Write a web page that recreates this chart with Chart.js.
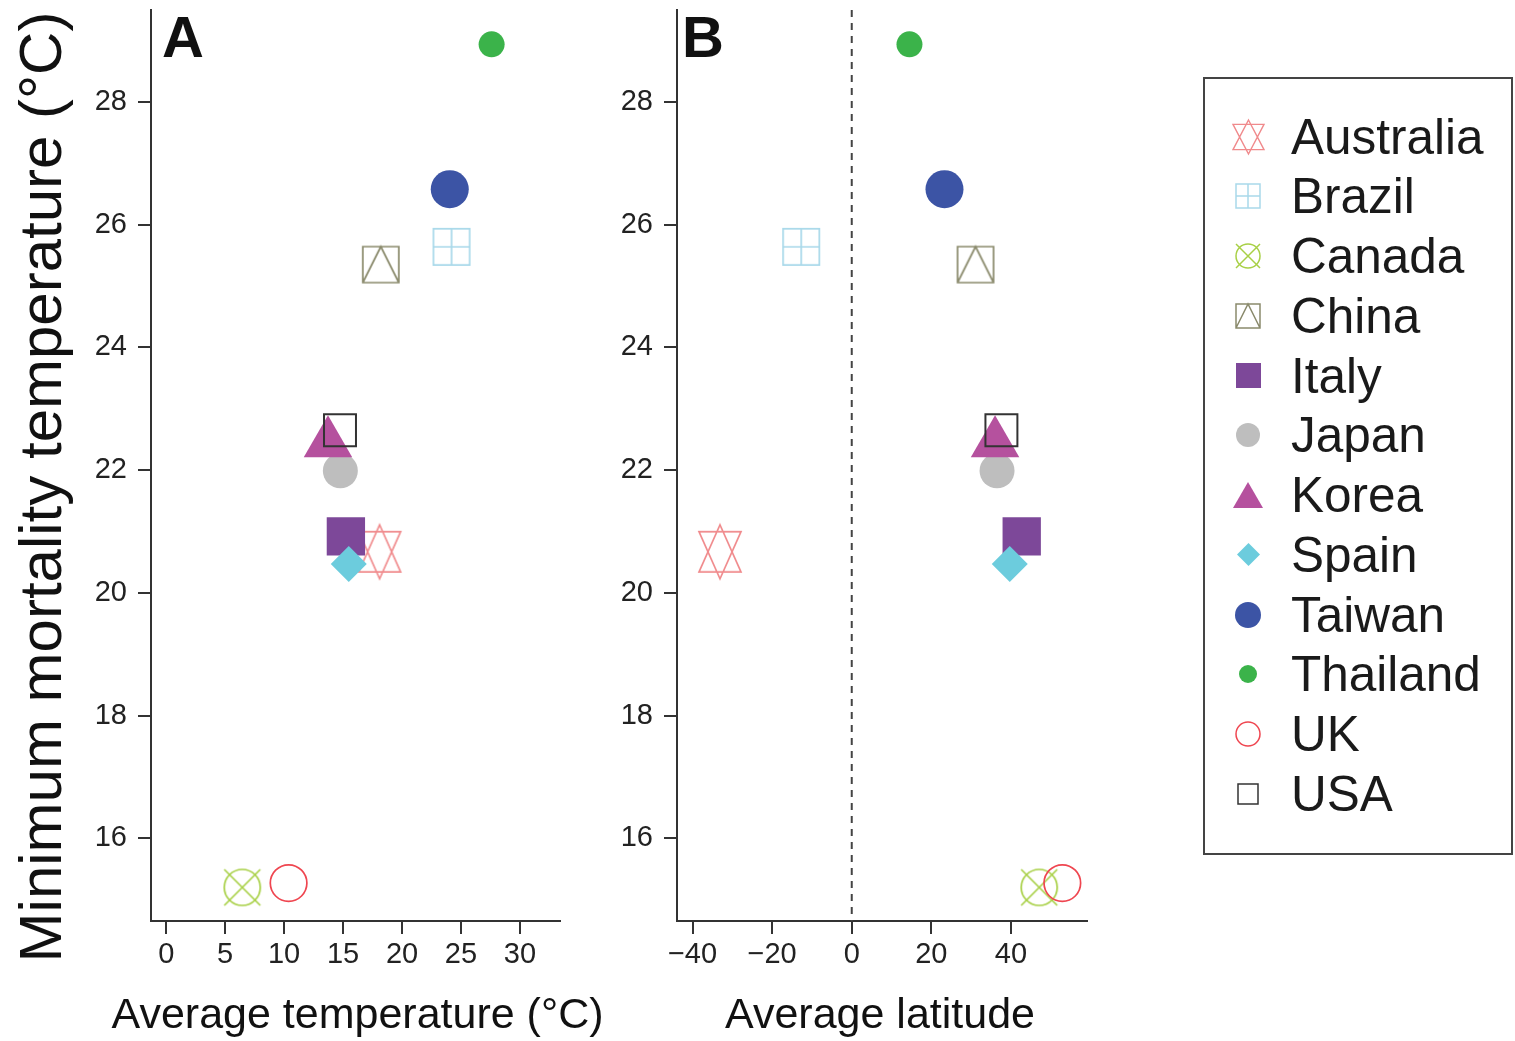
<!DOCTYPE html>
<html>
<head>
<meta charset="utf-8">
<script src="https://cdn.jsdelivr.net/npm/chart.js@4.4.1/dist/chart.umd.min.js"></script>
<style>
html,body{margin:0;padding:0;background:#fff;}
body{width:1515px;height:1041px;position:relative;overflow:hidden;font-family:"Liberation Sans",Arial,sans-serif;}
canvas{position:absolute;}
#ytitle{position:absolute;left:-459px;top:452px;width:1000px;height:70px;line-height:70px;font-size:60px;text-align:center;transform:rotate(-90deg);color:#111;white-space:nowrap;}
#legendBox{position:absolute;left:1203px;top:77px;width:306px;height:774px;border:2px solid #444;}
.ltext{position:absolute;left:1291px;height:60px;line-height:60px;font-size:49.5px;color:#1a1a1a;white-space:nowrap;}
</style>
</head>
<body>
<div id="ytitle">Minimum mortality temperature (°C)</div>
<canvas id="cA" width="630" height="1041" style="left:0;top:0;width:630px;height:1041px;"></canvas>
<canvas id="cB" width="560" height="1041" style="left:560px;top:0;width:560px;height:1041px;"></canvas>
<div id="legendBox"></div>
<script>
// ---------------- data ----------------
const countries = ['Australia','Brazil','Canada','China','Italy','Japan','Korea','Spain','Taiwan','Thailand','UK','USA'];
const avgTemperature = [18.1, 24.2, 6.45, 18.2, 15.24, 14.77, 13.72, 15.48, 24.05, 27.6, 10.38, 14.74];
const avgLatitude = [-33.1, -12.7, 47.1, 31.1, 42.7, 36.5, 36.0, 39.7, 23.3, 14.5, 52.9, 37.6];
const minMortalityTemp = [20.67, 25.64, 15.2, 25.35, 20.92, 21.99, 22.44, 20.47, 26.58, 28.94, 15.27, 22.65];
const tempTicks = [0, 5, 10, 15, 20, 25, 30];
const latTicks = [-40, -20, 0, 20, 40];
const mmtTicks = [16, 18, 20, 22, 24, 26, 28];
const referenceLatitude = 0;

// ---------------- styles ----------------
const colors = ['#F08A8C','#A9D9EA','#A8D046','#8A8A6C','#7D4899','#BEBEBE','#B5519E','#6CCCDD','#3C54A5','#3BB34A','#EF4650','#333333'];
const kinds  = ['star','sqplus','circx','sqtri','square','circle','triangle','diamond','circle','circle','ring','box'];
// legend marker sizes [w,h]
const legendSizes = [[31,34],[24,24],[24,24],[24,24],[25,25],[24,24],[30,26],[23,23],[26,26],[18,18],[24,24],[20,20]];

function drawMarker(ctx, kind, cx, cy, w, h, col, lw) {
  ctx.save();
  ctx.strokeStyle = col; ctx.fillStyle = col; ctx.lineWidth = lw; ctx.lineJoin = 'miter';
  const hw = w / 2, hh = h / 2;
  ctx.beginPath();
  switch (kind) {
    case 'star':
      ctx.moveTo(cx, cy - hh); ctx.lineTo(cx + hw, cy + h * 0.372); ctx.lineTo(cx - hw, cy + h * 0.372); ctx.closePath();
      ctx.moveTo(cx, cy + hh); ctx.lineTo(cx + hw, cy - h * 0.372); ctx.lineTo(cx - hw, cy - h * 0.372); ctx.closePath();
      ctx.stroke(); break;
    case 'sqplus':
      ctx.rect(cx - hw, cy - hh, w, h);
      ctx.moveTo(cx, cy - hh); ctx.lineTo(cx, cy + hh);
      ctx.moveTo(cx - hw, cy); ctx.lineTo(cx + hw, cy);
      ctx.stroke(); break;
    case 'circx':
      ctx.arc(cx, cy, hw, 0, Math.PI * 2);
      ctx.moveTo(cx - hw, cy - hh); ctx.lineTo(cx + hw, cy + hh);
      ctx.moveTo(cx + hw, cy - hh); ctx.lineTo(cx - hw, cy + hh);
      ctx.stroke(); break;
    case 'sqtri':
      ctx.rect(cx - hw, cy - hh, w, h);
      ctx.moveTo(cx - hw, cy + hh); ctx.lineTo(cx, cy - hh); ctx.lineTo(cx + hw, cy + hh);
      ctx.stroke(); break;
    case 'square':
      ctx.rect(cx - hw, cy - hh, w, h); ctx.fill(); break;
    case 'box':
      ctx.rect(cx - hw, cy - hh, w, h); ctx.stroke(); break;
    case 'circle':
      ctx.arc(cx, cy, hw, 0, Math.PI * 2); ctx.fill(); break;
    case 'ring':
      ctx.arc(cx, cy, hw, 0, Math.PI * 2); ctx.stroke(); break;
    case 'triangle':
      ctx.moveTo(cx, cy - hh); ctx.lineTo(cx + hw, cy + hh); ctx.lineTo(cx - hw, cy + hh); ctx.closePath(); ctx.fill(); break;
    case 'diamond':
      ctx.moveTo(cx, cy - hh); ctx.lineTo(cx + hw, cy); ctx.lineTo(cx, cy + hh); ctx.lineTo(cx - hw, cy); ctx.closePath(); ctx.fill(); break;
  }
  ctx.restore();
}

function markerCanvas(kind, w, h, col, lw, cw, ch) {
  const c = document.createElement('canvas');
  c.width = cw; c.height = ch;
  drawMarker(c.getContext('2d'), kind, cw / 2, ch / 2, w, h, col, lw);
  return c;
}

// point options for the plot panels
function plotPointOptions(i) {
  const col = colors[i];
  switch (kinds[i]) {
    case 'star':    return {pointStyle: markerCanvas('star', 42, 54, col, 1.7, 48, 60), pointRadius: 28, pointBorderWidth: 0};
    case 'sqplus':  return {pointStyle: markerCanvas('sqplus', 36.3, 36.3, col, 1.7, 42, 42), pointRadius: 20, pointBorderWidth: 0};
    case 'circx':   return {pointStyle: markerCanvas('circx', 36, 36, col, 1.7, 42, 42), pointRadius: 20, pointBorderWidth: 0};
    case 'sqtri':   return {pointStyle: markerCanvas('sqtri', 36, 36, col, 1.7, 42, 42), pointRadius: 20, pointBorderWidth: 0};
    case 'square':  return {pointStyle: 'rect', pointRadius: 27.1, pointBorderWidth: 0, pointBackgroundColor: col};
    case 'box':     return {pointStyle: 'rect', pointRadius: 22.6, pointBorderWidth: 2, pointBorderColor: col, pointBackgroundColor: 'rgba(0,0,0,0)'};
    case 'circle':  return {pointStyle: 'circle', pointRadius: i === 5 ? 17.5 : (i === 8 ? 19 : 13), pointBorderWidth: 0, pointBackgroundColor: col};
    case 'ring':    return {pointStyle: 'circle', pointRadius: 18.3, pointBorderWidth: 1.7, pointBorderColor: col, pointBackgroundColor: 'rgba(0,0,0,0)'};
    case 'triangle':return {pointStyle: 'triangle', pointRadius: 28, pointBorderWidth: 0, pointBackgroundColor: col};
    case 'diamond': return {pointStyle: 'rectRot', pointRadius: 18, pointBorderWidth: 0, pointBackgroundColor: col};
  }
}

function buildDatasets(xValues) {
  return countries.map((name, i) => Object.assign({
    label: name,
    data: [{x: xValues[i], y: minMortalityTemp[i]}],
    showLine: false,
    clip: false,
    order: countries.length - i
  }, plotPointOptions(i)));
}

const fmt = v => (v < 0 ? '\u2212' + Math.abs(v) : String(v));
const FONT = '"Liberation Sans", Arial, sans-serif';

const decorPlugin = {
  id: 'decor',
  beforeDatasetsDraw(chart, args, opts) {
    const ctx = chart.ctx, ca = chart.chartArea;
    if (opts.zeroLine) {
      const x = chart.scales.x.getPixelForValue(referenceLatitude);
      ctx.save();
      ctx.setLineDash([7, 6]);
      ctx.strokeStyle = '#444'; ctx.lineWidth = 2;
      ctx.beginPath(); ctx.moveTo(x, ca.top); ctx.lineTo(x, ca.bottom); ctx.stroke();
      ctx.restore();
    }
  },
  afterDatasetsDraw(chart, args, opts) {
    const ctx = chart.ctx, ca = chart.chartArea;
    ctx.save();
    ctx.font = 'bold 58px ' + FONT;
    ctx.fillStyle = '#111'; ctx.textBaseline = 'alphabetic'; ctx.textAlign = 'left';
    ctx.fillText(opts.label, ca.left + opts.dx, ca.top + 46.5);
    // x-axis title (drawn without width squeezing)
    ctx.font = '43px ' + FONT;
    ctx.textAlign = 'center';
    ctx.fillText(opts.xTitle, (ca.left + ca.right) / 2 + opts.titleDx, 1028);
    ctx.restore();
  }
};

const axisColor = '#333';
function makeChart(id, xValues, xMin, xMax, xTicks, xTitle, yWidth, padRight, label, dx, titleDx, zeroLine) {
  return new Chart(document.getElementById(id), {
    type: 'scatter',
    data: {datasets: buildDatasets(xValues)},
    options: {
      responsive: false,
      animation: false,
      events: [],
      layout: {autoPadding: false, padding: {left: 0, top: 10, right: padRight, bottom: 0}},
      plugins: {legend: {display: false}, tooltip: {enabled: false},
        decor: {label: label, dx: dx, zeroLine: zeroLine, xTitle: xTitle, titleDx: titleDx}},
      scales: {
        x: {
          type: 'linear', min: xMin, max: xMax, bounds: 'data',
          afterBuildTicks: s => { s.ticks = xTicks.map(v => ({value: v})); },
          afterFit: s => { s.height = 120; s.paddingLeft = 0; s.paddingRight = 0; },
          border: {display: true, color: axisColor, width: 2},
          grid: {drawOnChartArea: false, drawTicks: true, tickLength: 13, color: axisColor, lineWidth: 2},
          ticks: {font: {family: FONT, size: 29}, color: '#222', padding: 4, maxRotation: 0, autoSkip: false, callback: v => fmt(v)},
          title: {display: false}
        },
        y: {
          type: 'linear', min: 14.652, max: 29.5, bounds: 'data',
          afterBuildTicks: s => { s.ticks = mmtTicks.map(v => ({value: v})); },
          afterFit: s => { s.width = yWidth; s.paddingTop = 0; s.paddingBottom = 0; },
          border: {display: true, color: axisColor, width: 2},
          grid: {drawOnChartArea: false, drawTicks: true, tickLength: 13, color: axisColor, lineWidth: 2},
          ticks: {font: {family: FONT, size: 29}, color: '#222', padding: 11, autoSkip: false, callback: v => fmt(v)}
        }
      }
    },
    plugins: [decorPlugin]
  });
}

makeChart('cA', avgTemperature, -1.29, 33.4, tempTicks, 'Average temperature (°C)', 151, 70, 'A', 11, 2, false);
makeChart('cB', avgLatitude, -43.9, 59.1, latTicks, 'Average latitude', 117, 33, 'B', 5, -2, true);

// ---------------- legend ----------------
countries.forEach((name, i) => {
  const cy = 136.7 + 59.75 * i;
  const [w, h] = legendSizes[i];
  const cw = Math.ceil(w + 6), ch = Math.ceil(h + 6);
  const lw = kinds[i] === 'star' ? 1.4 : 1.5;
  const c = markerCanvas(kinds[i], w, h, colors[i], lw, cw, ch);
  c.style.left = (1248 - cw / 2) + 'px';
  c.style.top = (cy - ch / 2) + 'px';
  c.style.width = cw + 'px'; c.style.height = ch + 'px';
  document.body.appendChild(c);
  const t = document.createElement('div');
  t.className = 'ltext';
  t.style.top = (cy - 30) + 'px';
  t.textContent = name;
  document.body.appendChild(t);
});
</script>
</body>
</html>
